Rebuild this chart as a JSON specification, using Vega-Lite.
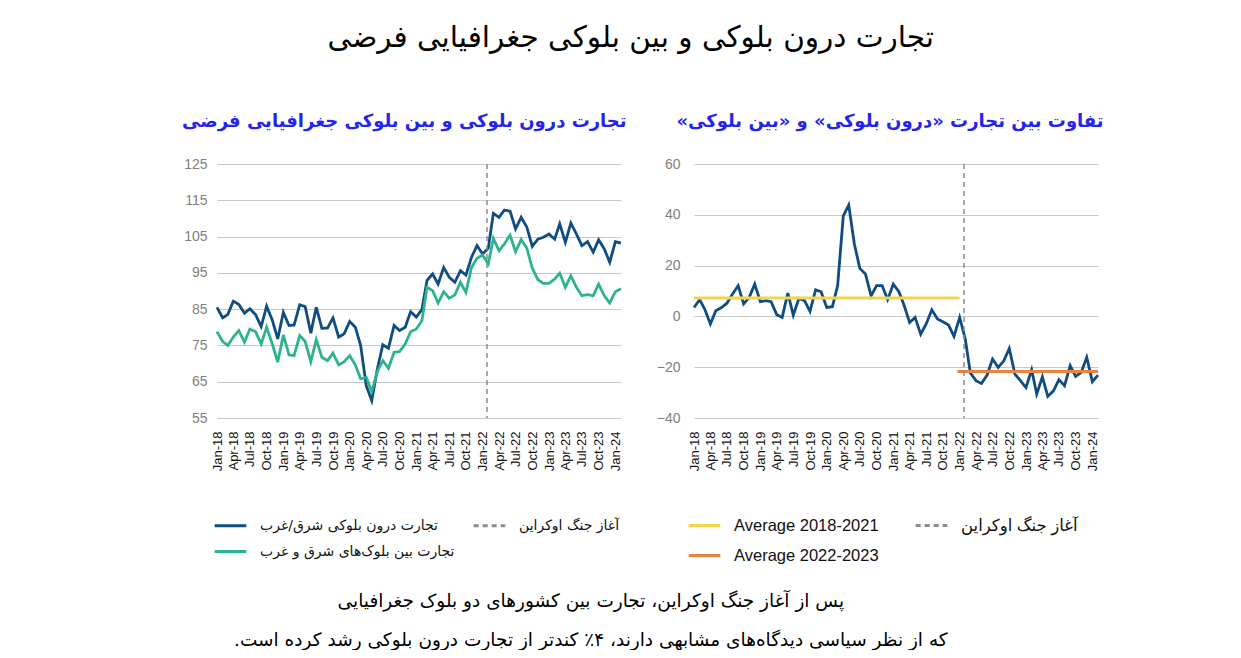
{
  "$schema": "https://vega.github.io/schema/vega-lite/v6.json",
  "background": "white",
  "padding": {"left": 182, "top": 22, "right": 0, "bottom": 0},
  "title": {
    "text": "تجارت درون بلوکی و بین بلوکی جغرافیایی فرضی",
    "font": "DejaVu Sans",
    "fontSize": 29.5,
    "fontWeight": "normal",
    "color": "#000000",
    "anchor": "middle",
    "dx": -12,
    "offset": 60
  },
  "datasets": {
    "trade": [
      {"date": "2018-01-01", "intra": 85.5, "inter": 78.8, "diff": 3.5},
      {"date": "2018-02-01", "intra": 82.6, "inter": 76.1, "diff": 6.6},
      {"date": "2018-03-01", "intra": 83.5, "inter": 75.0, "diff": 2.9},
      {"date": "2018-04-01", "intra": 87.2, "inter": 77.3, "diff": -3.0},
      {"date": "2018-05-01", "intra": 86.3, "inter": 79.1, "diff": 2.2},
      {"date": "2018-06-01", "intra": 83.9, "inter": 75.9, "diff": 3.5},
      {"date": "2018-07-01", "intra": 85.1, "inter": 79.5, "diff": 5.2},
      {"date": "2018-08-01", "intra": 83.5, "inter": 78.8, "diff": 8.8},
      {"date": "2018-09-01", "intra": 80.2, "inter": 75.4, "diff": 12.1},
      {"date": "2018-10-01", "intra": 85.8, "inter": 80.0, "diff": 4.9},
      {"date": "2018-11-01", "intra": 82.0, "inter": 75.4, "diff": 7.5},
      {"date": "2018-12-01", "intra": 76.8, "inter": 70.4, "diff": 12.7},
      {"date": "2019-01-01", "intra": 84.1, "inter": 77.9, "diff": 5.8},
      {"date": "2019-02-01", "intra": 80.5, "inter": 72.4, "diff": 6.2},
      {"date": "2019-03-01", "intra": 80.6, "inter": 72.2, "diff": 5.8},
      {"date": "2019-04-01", "intra": 86.2, "inter": 77.7, "diff": 0.7},
      {"date": "2019-05-01", "intra": 85.7, "inter": 76.1, "diff": -0.4},
      {"date": "2019-06-01", "intra": 78.4, "inter": 70.5, "diff": 9.2},
      {"date": "2019-07-01", "intra": 85.5, "inter": 76.6, "diff": 0.5},
      {"date": "2019-08-01", "intra": 79.7, "inter": 71.7, "diff": 7.1},
      {"date": "2019-09-01", "intra": 79.8, "inter": 70.8, "diff": 6.2},
      {"date": "2019-10-01", "intra": 82.6, "inter": 72.9, "diff": 2.0},
      {"date": "2019-11-01", "intra": 77.3, "inter": 69.6, "diff": 10.5},
      {"date": "2019-12-01", "intra": 78.2, "inter": 70.5, "diff": 9.7},
      {"date": "2020-01-01", "intra": 81.6, "inter": 72.2, "diff": 3.5},
      {"date": "2020-02-01", "intra": 80.0, "inter": 69.6, "diff": 3.8},
      {"date": "2020-03-01", "intra": 75.0, "inter": 65.8, "diff": 12.1},
      {"date": "2020-04-01", "intra": 63.9, "inter": 66.2, "diff": 39.6},
      {"date": "2020-05-01", "intra": 59.8, "inter": 62.3, "diff": 43.8},
      {"date": "2020-06-01", "intra": 68.5, "inter": 67.8, "diff": 28.5},
      {"date": "2020-07-01", "intra": 75.2, "inter": 70.8, "diff": 18.9},
      {"date": "2020-08-01", "intra": 74.2, "inter": 68.7, "diff": 16.7},
      {"date": "2020-09-01", "intra": 80.5, "inter": 73.1, "diff": 8.1},
      {"date": "2020-10-01", "intra": 79.1, "inter": 73.3, "diff": 12.1},
      {"date": "2020-11-01", "intra": 80.0, "inter": 75.4, "diff": 12.1},
      {"date": "2020-12-01", "intra": 84.3, "inter": 78.8, "diff": 6.6},
      {"date": "2021-01-01", "intra": 82.8, "inter": 79.5, "diff": 12.7},
      {"date": "2021-02-01", "intra": 84.9, "inter": 81.8, "diff": 9.7},
      {"date": "2021-03-01", "intra": 92.9, "inter": 91.0, "diff": 4.5},
      {"date": "2021-04-01", "intra": 94.7, "inter": 90.1, "diff": -2.4},
      {"date": "2021-05-01", "intra": 91.9, "inter": 86.7, "diff": -0.4},
      {"date": "2021-06-01", "intra": 96.5, "inter": 89.8, "diff": -7.0},
      {"date": "2021-07-01", "intra": 93.8, "inter": 88.0, "diff": -3.0},
      {"date": "2021-08-01", "intra": 92.4, "inter": 88.9, "diff": 2.6},
      {"date": "2021-09-01", "intra": 95.6, "inter": 92.4, "diff": -1.0},
      {"date": "2021-10-01", "intra": 94.4, "inter": 89.6, "diff": -2.1},
      {"date": "2021-11-01", "intra": 99.3, "inter": 96.5, "diff": -3.4},
      {"date": "2021-12-01", "intra": 102.5, "inter": 99.0, "diff": -7.9},
      {"date": "2022-01-01", "intra": 100.2, "inter": 99.9, "diff": -0.4},
      {"date": "2022-02-01", "intra": 101.8, "inter": 97.5, "diff": -8.9},
      {"date": "2022-03-01", "intra": 111.4, "inter": 104.5, "diff": -22.3},
      {"date": "2022-04-01", "intra": 110.3, "inter": 101.1, "diff": -25.3},
      {"date": "2022-05-01", "intra": 112.3, "inter": 103.0, "diff": -26.4},
      {"date": "2022-06-01", "intra": 112.0, "inter": 105.4, "diff": -23.1},
      {"date": "2022-07-01", "intra": 107.1, "inter": 100.8, "diff": -16.8},
      {"date": "2022-08-01", "intra": 110.3, "inter": 104.2, "diff": -20.1},
      {"date": "2022-09-01", "intra": 107.6, "inter": 101.8, "diff": -17.5},
      {"date": "2022-10-01", "intra": 102.3, "inter": 96.3, "diff": -12.6},
      {"date": "2022-11-01", "intra": 104.3, "inter": 93.1, "diff": -22.7},
      {"date": "2022-12-01", "intra": 104.8, "inter": 92.1, "diff": -25.3},
      {"date": "2023-01-01", "intra": 105.7, "inter": 92.1, "diff": -28.0},
      {"date": "2023-02-01", "intra": 104.3, "inter": 93.3, "diff": -21.0},
      {"date": "2023-03-01", "intra": 108.5, "inter": 94.9, "diff": -30.6},
      {"date": "2023-04-01", "intra": 103.4, "inter": 91.0, "diff": -23.8},
      {"date": "2023-05-01", "intra": 108.7, "inter": 94.2, "diff": -31.5},
      {"date": "2023-06-01", "intra": 105.7, "inter": 91.0, "diff": -29.3},
      {"date": "2023-07-01", "intra": 102.5, "inter": 88.7, "diff": -24.9},
      {"date": "2023-08-01", "intra": 103.6, "inter": 89.0, "diff": -27.3},
      {"date": "2023-09-01", "intra": 100.7, "inter": 88.7, "diff": -19.4},
      {"date": "2023-10-01", "intra": 104.1, "inter": 91.9, "diff": -23.6},
      {"date": "2023-11-01", "intra": 101.6, "inter": 88.7, "diff": -22.0},
      {"date": "2023-12-01", "intra": 97.9, "inter": 86.7, "diff": -16.1},
      {"date": "2024-01-01", "intra": 103.6, "inter": 89.8, "diff": -25.7},
      {"date": "2024-02-01", "intra": 103.2, "inter": 90.6, "diff": -23.1}
    ],
    "war": [{"date": "2022-01-25", "series": "war"}],
    "averages": [
      {"start": "2018-01-01", "end": "2022-01-01", "avg": 7.2, "series": "avg1"},
      {"start": "2021-12-20", "end": "2024-02-01", "avg": -21.7, "series": "avg2"}
    ]
  },
  "vconcat": [
    {
      "title": {
        "text": [
          "پس از آغاز جنگ اوکراین، تجارت بین کشورهای دو بلوک جغرافیایی",
          "\u200fکه از نظر سیاسی دیدگاه‌های مشابهی دارند، ۴٪ کندتر از تجارت درون بلوکی رشد کرده است.\u200f"
        ],
        "orient": "bottom",
        "anchor": "middle",
        "font": "DejaVu Sans",
        "fontSize": 18.5,
        "fontWeight": "normal",
        "color": "#000000",
        "lineHeight": 39,
        "offset": 28,
        "dx": -52
      },
      "spacing": 29,
      "resolve": {
        "scale": {"color": "independent", "strokeDash": "independent"},
        "legend": {"color": "independent", "strokeDash": "independent"}
      },
      "hconcat": [
        {
          "width": 404,
          "height": 254,
          "title": {
            "text": "تجارت درون بلوکی و بین بلوکی جغرافیایی فرضی",
            "anchor": "end",
            "font": "DejaVu Sans",
            "fontSize": 18,
            "fontWeight": "bold",
            "color": "#2424ee",
            "offset": 26
          },
          "layer": [
            {
              "data": {"name": "trade"},
              "transform": [{"fold": ["intra", "inter"], "as": ["series", "value"]}],
              "mark": {"type": "line", "strokeWidth": 2.8},
              "encoding": {
                "x": {
                  "field": "date",
                  "type": "temporal",
                  "scale": {"type": "utc", "domain": [{"year": 2018, "month": "jan", "date": 1, "utc": true}, {"year": 2024, "month": "feb", "date": 1, "utc": true}]},
                  "axis": {"format": "%b-%y", "labelAngle": -90, "grid": false, "domain": false, "ticks": false, "title": null, "labelFont": "Liberation Sans", "labelFontSize": 13, "labelColor": "#111111", "labelPadding": 13, "tickCount": {"interval": "month", "step": 3}, "labelOverlap": false}
                },
                "y": {
                  "field": "value",
                  "type": "quantitative",
                  "scale": {"domain": [55, 125], "nice": false, "zero": false},
                  "axis": {"values": [55, 65, 75, 85, 95, 105, 115, 125], "grid": true, "gridColor": "#c8c8c8", "domain": false, "ticks": false, "title": null, "labelFont": "Liberation Sans", "labelFontSize": 14, "labelColor": "#808080", "labelPadding": 10}
                },
                "color": {
                  "field": "series",
                  "type": "nominal",
                  "scale": {"domain": ["intra", "inter", "war"], "range": ["#0f4c81", "#2db38d", "#8c8c8c"]},
                  "legend": {"orient": "none", "legendX": -4, "legendY": 344, "columns": 2, "columnPadding": 12, "rowPadding": 1, "title": null, "symbolType": "stroke", "symbolSize": 1000, "symbolStrokeWidth": 3, "labelFont": "DejaVu Sans", "labelFontSize": 14, "labelColor": "#111111", "labelLimit": 400, "labelOffset": 12,
                    "labelExpr": "datum.label == 'intra' ? 'تجارت درون بلوکی شرق/غرب' : datum.label == 'inter' ? 'تجارت بین بلوک‌های شرق و غرب' : 'آغاز جنگ اوکراین'"}
                },
                "strokeDash": {
                  "field": "series",
                  "type": "nominal",
                  "scale": {"domain": ["intra", "inter", "war"], "range": [[1, 0], [1, 0], [5, 4]]},
                  "legend": {"orient": "none", "legendX": -4, "legendY": 344, "columns": 2, "columnPadding": 12, "rowPadding": 1, "title": null, "symbolType": "stroke", "symbolSize": 1000, "symbolStrokeWidth": 3, "labelFont": "DejaVu Sans", "labelFontSize": 14, "labelColor": "#111111", "labelLimit": 400, "labelOffset": 12,
                    "labelExpr": "datum.label == 'intra' ? 'تجارت درون بلوکی شرق/غرب' : datum.label == 'inter' ? 'تجارت بین بلوک‌های شرق و غرب' : 'آغاز جنگ اوکراین'"}
                }
              }
            },
            {
              "data": {"name": "war"},
              "mark": {"type": "rule", "strokeWidth": 1.5},
              "encoding": {
                "x": {"field": "date", "type": "temporal"},
                "color": {"field": "series", "type": "nominal"},
                "strokeDash": {"field": "series", "type": "nominal"}
              }
            }
          ]
        },
        {
          "width": 404,
          "height": 254,
          "title": {
            "text": "\u200fتفاوت بین تجارت «درون بلوکی» و «بین بلوکی»\u200f",
            "anchor": "end",
            "font": "DejaVu Sans",
            "fontSize": 18,
            "fontWeight": "bold",
            "color": "#2424ee",
            "offset": 26
          },
          "layer": [
            {
              "data": {"name": "trade"},
              "mark": {"type": "line", "strokeWidth": 2.8, "color": "#0f4c81"},
              "encoding": {
                "x": {
                  "field": "date",
                  "type": "temporal",
                  "scale": {"type": "utc", "domain": [{"year": 2018, "month": "jan", "date": 1, "utc": true}, {"year": 2024, "month": "feb", "date": 1, "utc": true}]},
                  "axis": {"format": "%b-%y", "labelAngle": -90, "grid": false, "domain": false, "ticks": false, "title": null, "labelFont": "Liberation Sans", "labelFontSize": 13, "labelColor": "#111111", "labelPadding": 13, "tickCount": {"interval": "month", "step": 3}, "labelOverlap": false}
                },
                "y": {
                  "field": "diff",
                  "type": "quantitative",
                  "scale": {"domain": [-40, 60], "nice": false, "zero": false},
                  "axis": {"values": [-40, -30, -20, -10, 0, 10, 20, 30, 40, 50, 60], "grid": true, "gridColor": "#c8c8c8", "domain": false, "ticks": false, "title": null, "labelFont": "Liberation Sans", "labelFontSize": 14, "labelColor": "#808080", "labelPadding": 14}
                }
              }
            },
            {
              "data": {"name": "averages"},
              "mark": {"type": "rule", "strokeWidth": 3},
              "encoding": {
                "x": {"field": "start", "type": "temporal"},
                "x2": {"field": "end"},
                "y": {"field": "avg", "type": "quantitative"},
                "color": {
                  "field": "series",
                  "type": "nominal",
                  "scale": {"domain": ["avg1", "avg2", "war"], "range": ["#f2d54b", "#e9833e", "#8c8c8c"]},
                  "legend": {"orient": "none", "legendX": -7, "legendY": 344, "columns": 2, "columnPadding": 30, "rowPadding": 4, "title": null, "symbolType": "stroke", "symbolSize": 1000, "symbolStrokeWidth": 3, "labelFont": "Liberation Sans, DejaVu Sans", "labelFontSize": 16.5, "labelColor": "#111111", "labelLimit": 400, "labelOffset": 12,
                    "labelExpr": "datum.label == 'avg1' ? 'Average 2018-2021' : datum.label == 'avg2' ? 'Average 2022-2023' : 'آغاز جنگ اوکراین'"}
                },
                "strokeDash": {
                  "field": "series",
                  "type": "nominal",
                  "scale": {"domain": ["avg1", "avg2", "war"], "range": [[1, 0], [1, 0], [5, 4]]},
                  "legend": {"orient": "none", "legendX": -7, "legendY": 344, "columns": 2, "columnPadding": 30, "rowPadding": 4, "title": null, "symbolType": "stroke", "symbolSize": 1000, "symbolStrokeWidth": 3, "labelFont": "Liberation Sans, DejaVu Sans", "labelFontSize": 16.5, "labelColor": "#111111", "labelLimit": 400, "labelOffset": 12,
                    "labelExpr": "datum.label == 'avg1' ? 'Average 2018-2021' : datum.label == 'avg2' ? 'Average 2022-2023' : 'آغاز جنگ اوکراین'"}
                }
              }
            },
            {
              "data": {"name": "war"},
              "mark": {"type": "rule", "strokeWidth": 1.5},
              "encoding": {
                "x": {"field": "date", "type": "temporal"},
                "color": {"field": "series", "type": "nominal"},
                "strokeDash": {"field": "series", "type": "nominal"}
              }
            }
          ]
        }
      ]
    }
  ],
  "config": {
    "view": {"stroke": null},
    "font": "Liberation Sans"
  }
}
